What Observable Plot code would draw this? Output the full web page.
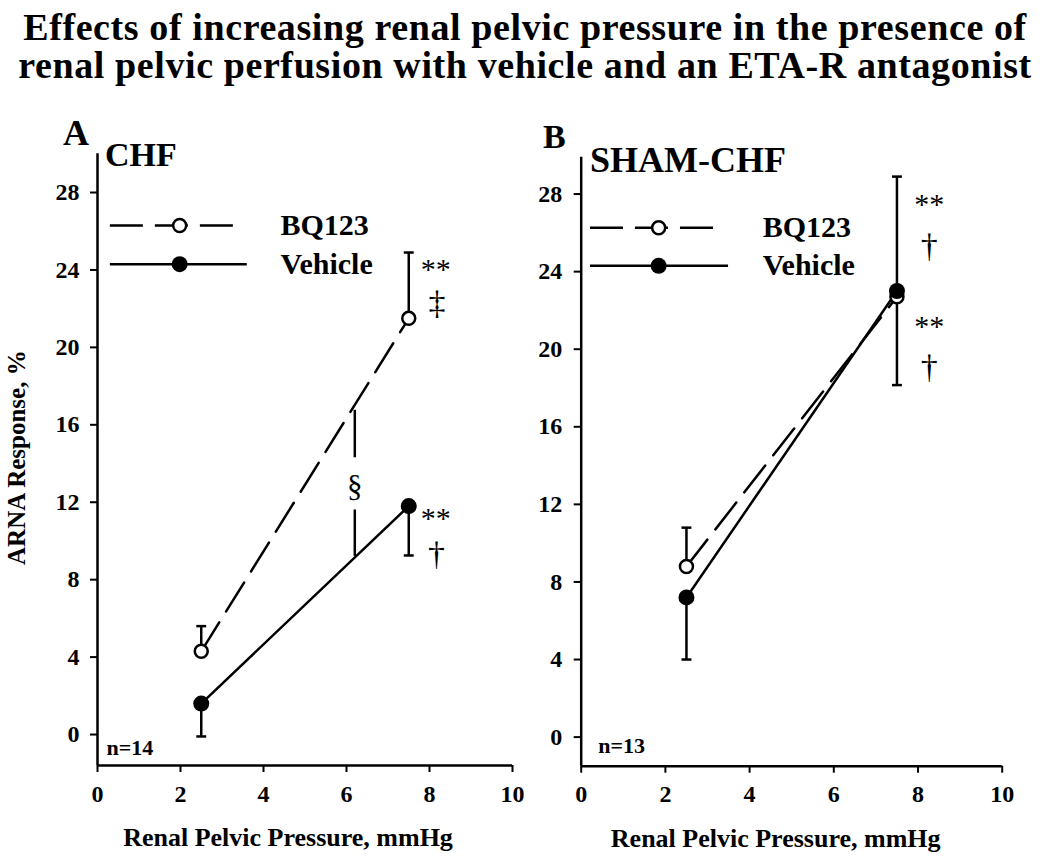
<!DOCTYPE html>
<html>
<head>
<meta charset="utf-8">
<script src="https://cdn.jsdelivr.net/npm/d3@7"></script>
<script src="https://cdn.jsdelivr.net/npm/@observablehq/plot@0.6"></script>
<style>
  body { margin: 0; background: white; }
  #wrap { position: relative; width: 1050px; height: 861px; background: white; font-family: "Liberation Serif", serif; color: black; }
  .title { position: absolute; left: 0; width: 1050px; text-align: center; font-weight: bold; font-size: 38px; letter-spacing: 0.6px; line-height: 1; white-space: nowrap; }
  .lbl { position: absolute; font-weight: bold; line-height: 1; white-space: nowrap; }
  .plot { position: absolute; top: 100px; }
  #wrap g[aria-label$="tick label"] text { font-size: 24px !important; font-weight: bold; }
</style>
</head>
<body>
<div id="wrap">
  <div class="title" style="top:8px">Effects of increasing renal pelvic pressure in the presence of</div>
  <div class="title" style="top:46px">renal pelvic perfusion with vehicle and an ETA-R antagonist</div>
  <div id="pA" class="plot" style="left:0px"></div>
  <div id="pB" class="plot" style="left:525px"></div>
  <div class="lbl" style="left:63px;top:115px;font-size:36px">A</div>
  <div class="lbl" style="left:105px;top:138px;font-size:34px">CHF</div>
  <div class="lbl" style="left:543px;top:120px;font-size:34px">B</div>
  <div class="lbl" style="left:590px;top:142px;font-size:36px">SHAM-CHF</div>
</div>
<script>
// ---- data ----
const xTicks = [0, 2, 4, 6, 8, 10];
const yTicks = [0, 4, 8, 12, 16, 20, 24, 28];
const pressure = [2.5, 7.5];                 // Renal pelvic pressure, mmHg
const seriesNames = ["BQ123", "Vehicle"];

// Panel A: CHF (n=14)
const chfBQ123 = [4.3, 21.5];
const chfBQ123SE = [1.3, 3.4];               // drawn upward
const chfVehicle = [1.6, 11.8];
const chfVehicleSE = [1.7, 2.55];            // drawn downward
const chfNotes = [
  {x: 8.15, y: 24.3, text: "**"}, {x: 8.18, y: 22.3, text: "‡"},
  {x: 8.15, y: 11.4, text: "**"}, {x: 8.17, y: 9.3, text: "†"}
];
const chfSection = {x: 6.2, yTop: 16.75, yGapTop: 14.3, ySign: 12.8, yGapBottom: 11.6, yBottom: 9.2};

// Panel B: SHAM-CHF (n=13)
const shamBQ123 = [8.8, 22.7];
const shamBQ123SE = [2.0, 6.2];
const shamVehicle = [7.2, 23.0];
const shamVehicleSE = [3.2, 4.85];
const shamNotes = [
  {x: 8.27, y: 27.7, text: "**"}, {x: 8.27, y: 25.3, text: "†"},
  {x: 8.27, y: 21.45, text: "**"}, {x: 8.27, y: 19.1, text: "†"}
];

// error-bar cap as a custom symbol (horizontal segment)
const capSymbol = {
  draw(ctx, size) { const w = Math.sqrt(size); ctx.moveTo(-w / 2, 0); ctx.lineTo(w / 2, 0); }
};
const SW = 2.5;

function panel(cfg) {
  const bq = pressure.map((x, i) => ({x, y: cfg.bq[i], hi: cfg.bq[i] + cfg.bqSE[i]}));
  const veh = pressure.map((x, i) => ({x, y: cfg.veh[i], lo: cfg.veh[i] - cfg.vehSE[i]}));
  const L = cfg.legend;
  const marks = [
    Plot.ruleX([0], {stroke: "black", strokeWidth: SW}),
    Plot.ruleY([cfg.yDomain[0]], {stroke: "black", strokeWidth: SW}),
    Plot.axisY({ticks: yTicks, tickSize: 7, tickPadding: cfg.yPad, fontSize: 24, fontWeight: "bold", strokeWidth: 2, label: null}),
    Plot.axisX({ticks: xTicks, tickSize: 7, tickPadding: 12, fontSize: 24, fontWeight: "bold", strokeWidth: 2, label: null}),
    Plot.text(["Renal Pelvic Pressure, mmHg"], {frameAnchor: "bottom", text: d => d, dx: cfg.xlabDx, dy: cfg.xlabDy, fontSize: 26, fontWeight: "bold", textAnchor: "middle", lineAnchor: "middle"}),
    // legend
    Plot.ruleY([L.yBQ], {x1: L.x1, x2: L.x2BQ, stroke: "black", strokeWidth: SW, strokeDasharray: "33,12"}),
    Plot.ruleY([L.yVeh], {x1: L.x1, x2: L.x2Veh, stroke: "black", strokeWidth: SW}),
    Plot.dot([L.yBQ], {x: () => L.xDot, y: d => d, r: 6.5, fill: "white", stroke: "black", strokeWidth: SW}),
    Plot.dot([L.yVeh], {x: () => L.xDot, y: d => d, r: 8, fill: "black"}),
    Plot.text([seriesNames[0]], {x: () => L.xText, y: () => L.yBQ, text: d => d, textAnchor: "start", lineAnchor: "middle", fontSize: 30, fontWeight: "bold"}),
    Plot.text([seriesNames[1]], {x: () => L.xText, y: () => L.yVeh, text: d => d, textAnchor: "start", lineAnchor: "middle", fontSize: 30, fontWeight: "bold"}),
    // data
    Plot.line(veh, {x: "x", y: "y", stroke: "black", strokeWidth: SW}),
    Plot.line(bq, {x: "x", y: "y", stroke: "black", strokeWidth: SW, strokeDasharray: "34,13"}),
    Plot.ruleX(bq, {x: "x", y1: "y", y2: "hi", stroke: "black", strokeWidth: SW}),
    Plot.dot(bq, {x: "x", y: "hi", symbol: capSymbol, r: 5.6, stroke: "black", strokeWidth: SW, fill: "none"}),
    Plot.ruleX(veh, {x: "x", y1: "y", y2: "lo", stroke: "black", strokeWidth: SW}),
    Plot.dot(veh, {x: "x", y: "lo", symbol: capSymbol, r: 5.6, stroke: "black", strokeWidth: SW, fill: "none"}),
    Plot.dot(bq, {x: "x", y: "y", r: 6.5, fill: "white", stroke: "black", strokeWidth: SW}),
    Plot.dot(veh, {x: "x", y: "y", r: 8, fill: "black"}),
    // significance marks
    Plot.text(cfg.notes.filter(d => d.text === "**"), {x: "x", y: "y", text: "text", fontSize: 30, fontWeight: "normal", dy: 5, lineAnchor: "middle"}),
    Plot.text(cfg.notes.filter(d => d.text !== "**"), {x: "x", y: "y", text: "text", fontSize: 34, fontWeight: "normal", lineAnchor: "middle"}),
    Plot.text([cfg.n], {frameAnchor: "bottom-left", text: d => d, dx: cfg.nDx, dy: cfg.nDy, textAnchor: "start", lineAnchor: "middle", fontSize: 22, fontWeight: "bold"})
  ];
  if (cfg.ylabel) {
    marks.push(Plot.text([cfg.ylabel], {frameAnchor: "left", text: d => d, rotate: -90, dx: -81, dy: -2, fontSize: 25, fontWeight: "bold", textAnchor: "middle", lineAnchor: "middle"}));
  }
  if (cfg.section) {
    const s = cfg.section;
    marks.push(
      Plot.ruleX([s], {x: "x", y1: "yTop", y2: "yGapTop", stroke: "black", strokeWidth: SW}),
      Plot.ruleX([s], {x: "x", y1: "yGapBottom", y2: "yBottom", stroke: "black", strokeWidth: SW}),
      Plot.text([s], {x: "x", y: "ySign", text: () => "§", fontSize: 31, fontWeight: "normal", lineAnchor: "middle"})
    );
  }
  return Plot.plot({
    width: 525, height: 761,
    marginLeft: cfg.m[0], marginRight: cfg.m[1], marginTop: cfg.m[2], marginBottom: cfg.m[3],
    x: {domain: [0, 10]},
    y: {domain: cfg.yDomain},
    style: {fontFamily: "Liberation Serif, serif", fontWeight: "bold", color: "black", background: "transparent", overflow: "visible"},
    marks
  });
}

document.getElementById("pA").append(panel({
  bq: chfBQ123, bqSE: chfBQ123SE, veh: chfVehicle, vehSE: chfVehicleSE,
  notes: chfNotes, section: chfSection, n: "n=14", ylabel: "ARNA Response, %",
  yDomain: [-1.6, 30], m: [97, 13, 53.3, 96], yPad: 11,
  xlabDx: -17, xlabDy: 72, nDx: 9, nDy: -18,
  legend: {x1: 0.31, x2BQ: 3.28, x2Veh: 3.61, xDot: 1.98, xText: 4.41, yBQ: 26.3, yVeh: 24.3}
}));
document.getElementById("pB").append(panel({
  bq: shamBQ123, bqSE: shamBQ123SE, veh: shamVehicle, vehSE: shamVehicleSE,
  notes: shamNotes, section: null, n: "n=13", ylabel: null,
  yDomain: [-1.5, 29.9], m: [55.7, 48.3, 56.7, 95.3], yPad: 12,
  xlabDx: -16, xlabDy: 72, nDx: 17, nDy: -20,
  legend: {x1: 0.22, x2BQ: 3.16, x2Veh: 3.5, xDot: 1.84, xText: 4.31, yBQ: 26.26, yVeh: 24.3}
}));
</script>
</body>
</html>
